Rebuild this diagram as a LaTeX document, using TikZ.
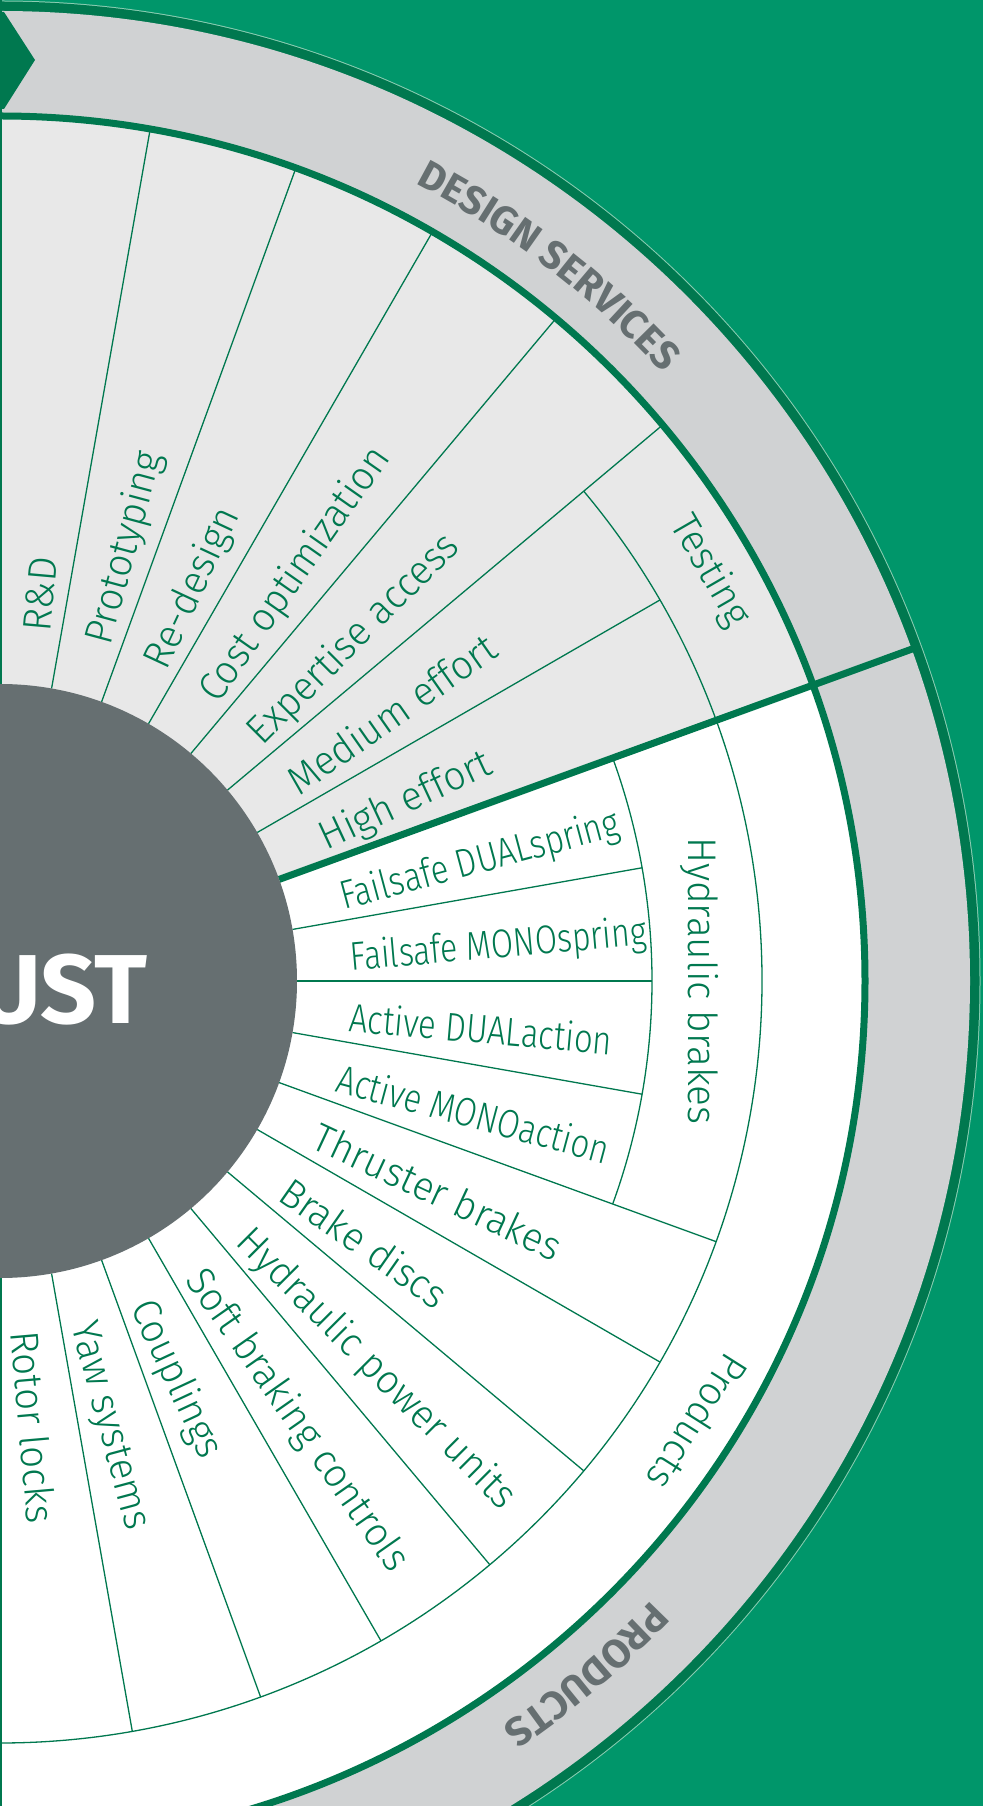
\documentclass[tikz,border=0pt]{standalone}
\usepackage{fontspec}
\usepackage{graphicx}
\setmainfont{Fira Sans Light}[FakeStretch=0.97]
\newfontfamily\boldf{Fira Sans Bold}
\usetikzlibrary{decorations.text}
\definecolor{bggreen}{HTML}{00966A}
\definecolor{dkgreen}{HTML}{00784F}
\definecolor{bandgray}{HTML}{D0D2D3}
\definecolor{dsfill}{HTML}{E8E8E8}
\definecolor{cgray}{HTML}{666F71}
\definecolor{rimline}{HTML}{8ACDB2}
\newcommand{\narrowtxt}[2][0.85]{\scalebox{#1}[1]{#2}}
\begin{document}
\begin{tikzpicture}[x=1bp,y=1bp,
  lbl/.style={text=dkgreen, font=\fontsize{40bp}{48bp}\selectfont, inner sep=0pt},
  rad/.style={lbl, anchor=base west},
  spoke/.style={draw=dkgreen, line width=1.3bp},
  ringline/.style={draw=dkgreen, line width=7bp}]
\useasboundingbox (0,-825) rectangle (983,981);
\fill[bggreen] (0,-825) rectangle (983,981);
% outer band
\fill[rimline] (0,0) circle[radius=980.5];
\fill[dkgreen] (0,0) circle[radius=979.5];
\fill[bandgray] (0,0) circle[radius=970];
% inner sectors
\fill[dsfill] (0,0) -- (20:866) arc[start angle=20, end angle=100, radius=866] -- cycle;
\fill[white] (0,0) -- (20:866) arc[start angle=20, end angle=-100, radius=866] -- cycle;
\draw[ringline] (0,0) circle[radius=865];
\draw[ringline] (20:297) -- (20:975);
% spokes
\foreach \a in {80,70,60,50,40} \draw[spoke] (\a:297) -- (\a:865);
\draw[spoke] (30:297) -- (30:762);
\foreach \a in {10,0,-10} \draw[spoke] (\a:297) -- (\a:652);
\foreach \a in {-20,-30,...,-80} \draw[spoke] (\a:297) -- (\a:762);
\draw[spoke] (40:762) arc[start angle=40, end angle=-95, radius=762];
\draw[spoke] (20:652) arc[start angle=20, end angle=-20, radius=652];
% left border
\draw[dkgreen, line width=4bp] (0,-825) -- (0,981);
% chevron
\fill[dkgreen] (0,969) -- (4,969) -- (35,921) -- (4,872) -- (0,872) -- cycle;
% hub
\fill[cgray] (0,0) circle[radius=297];
\node[font=\boldf\fontsize{98bp}{98bp}\selectfont, text=white, anchor=base east, inner sep=0pt] (ust) at (148,-42) {UST};
% design services labels (baseline 20 units clockwise of the sector middle)
\node[rad, rotate=85] (rd) at (81.7:351.6) {R\&D};
\node[rad, rotate=75] (proto) at (71.7:351.6) {Prototyping};
\node[rad, rotate=65] (redes) at (61.7:351.6) {Re-design};
\node[rad, rotate=55] (cost) at (51.7:351.6) {Cost optimization};
\node[rad, rotate=45] (exp) at (41.7:351.6) {Expertise access};
\node[rad, rotate=35] (med) at (31.7:351.6) {Medium effort};
\node[rad, rotate=25] (high) at (21.7:351.6) {High effort};
\node[lbl, rotate=-60, anchor=mid] (test) at (30:811) {Testing};
% products labels
\node[rad, rotate=15] (fds) at (11.7:351.6) {\narrowtxt{Failsafe DUALspring}};
\node[rad, rotate=5] (fms) at (1.7:351.6) {\narrowtxt[0.83]{Failsafe MONOspring}};
\node[rad, rotate=-5] (ada) at (-8.3:351.6) {\narrowtxt{Active DUALaction}};
\node[rad, rotate=-15] (ama) at (-18.3:351.6) {\narrowtxt{Active MONOaction}};
\node[rad, rotate=-25] (thr) at (-28.3:351.6) {Thruster brakes};
\node[rad, rotate=-35] (bd) at (-38.3:351.6) {Brake discs};
\node[rad, rotate=-45] (hpu) at (-48.3:351.6) {Hydraulic power units};
\node[rad, rotate=-55] (sbc) at (-58.3:351.6) {Soft braking controls};
\node[rad, rotate=-65] (coup) at (-68.3:351.6) {Couplings};
\node[rad, rotate=-75] (yaw) at (-78.3:351.6) {Yaw systems};
\node[rad, rotate=-85] (rot) at (-88.3:351.6) {Rotor locks};
\node[lbl, rotate=-90, anchor=mid] (hb) at (0:691) {Hydraulic brakes};
\node[lbl, rotate=-122.3, anchor=mid] (prodl) at (-32.3:814) {Products};
% band titles
\path[decorate, decoration={text along path, text align=center,
  text={|\boldf\fontsize{40bp}{40bp}\selectfont\color{cgray}|DESIGN SERVICES}}]
  (75:899) arc[start angle=75, end angle=30, radius=899];
\path[decorate, decoration={text along path, text align=center,
  text={|\boldf\fontsize{40bp}{40bp}\selectfont\color{cgray}|PRODUCTS}}]
  (-27:899) arc[start angle=-27, end angle=-72.6, radius=899];
\end{tikzpicture}
\end{document}
